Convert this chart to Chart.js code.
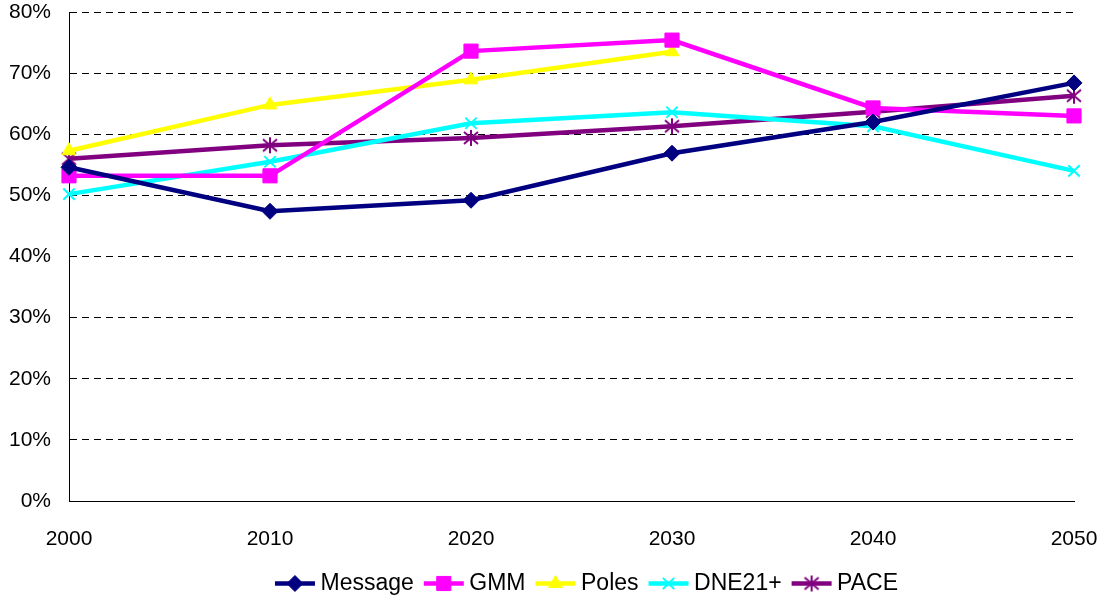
<!DOCTYPE html>
<html>
<head>
<meta charset="utf-8">
<script src="https://cdn.jsdelivr.net/npm/chart.js@4/dist/chart.umd.min.js"></script>
<style>
  html, body { margin: 0; padding: 0; background: #fff; }
  #wrap { width: 1101px; height: 596px; }
</style>
</head>
<body>
<div id="wrap"><canvas id="c"></canvas></div>
<script>
var years = ['2000', '2010', '2020', '2030', '2040', '2050'];
var message = [54.6, 47.4, 49.2, 56.9, 62.0, 68.4];
var gmm = [53.2, 53.2, 73.6, 75.4, 64.3, 63.0];
var poles = [57.3, 64.8, 68.9, 73.5, null, null];
var dne21 = [50.2, 55.5, 61.8, 63.6, 61.3, 54.0];
var pace = [56.0, 58.2, 59.4, 61.3, 63.7, 66.3];

// six-armed asterisk marker for PACE
function asterisk(color) {
    var c = document.createElement('canvas')
    c.width = 18
    c.height = 18
    var g = c.getContext('2d')
    g.strokeStyle = color
    g.lineWidth = 2
    g.beginPath()
    g.moveTo(9, 1); g.lineTo(9, 17)
    g.moveTo(2, 3); g.lineTo(16, 15)
    g.moveTo(16, 3); g.lineTo(2, 15)
    g.stroke()
    return c
}

function series(label, data, color, style, radius) {
    return {
        label: label,
        data: data,
        borderColor: color,
        backgroundColor: color,
        borderWidth: 4.5,
        pointStyle: style,
        pointRadius: radius,
        pointBorderWidth: style == 'crossRot' ? 2 : 1,
        pointBackgroundColor: color,
        pointBorderColor: color,
        tension: 0,
        spanGaps: false
    };
}

var LEGEND_LINE = 40

// legend swatch = a line with the marker on it, drawn by hand
var legendMarkers = {
    id: 'legendMarkers',
    afterLayout: function (chart) {
        // Excel puts the legend a bit right of centre and lower
        var lg = chart.legend
        lg.left += 47
        lg.right += 47
        lg.top += 9
        lg.bottom += 9
    },
    afterDraw: function (chart) {
        var legend = chart.legend
        var ctx = chart.ctx
        legend.legendHitBoxes.forEach(function (box, i) {
            var ds = chart.data.datasets[i]
            var cy = box.top + box.height / 2
            ctx.save()
            ctx.strokeStyle = ds.borderColor
            ctx.lineWidth = 4.5
            ctx.beginPath()
            ctx.moveTo(box.left, cy)
            ctx.lineTo(box.left + LEGEND_LINE, cy)
            ctx.stroke()
            ctx.fillStyle = ds.pointBackgroundColor
            ctx.strokeStyle = ds.pointBorderColor
            ctx.lineWidth = ds.pointBorderWidth
            Chart.helpers.drawPoint(ctx, {
                pointStyle: ds.pointStyle,
                radius: ds.pointRadius,
                rotation: 0,
                borderWidth: ds.pointBorderWidth
            }, box.left + LEGEND_LINE / 2, cy)
            ctx.restore()
        })
    }
};

var font = { family: 'Arial, "Liberation Sans", sans-serif', size: 21 };
var legendFont = { family: 'Arial, "Liberation Sans", sans-serif', size: 23 };

new Chart(document.getElementById('c'), {
    type: 'line',
    data: {
        labels: years,
        datasets: [
            series('Message', message, '#000080', 'rectRot', 8),
            series('GMM', gmm, '#FF00FF', 'rect', 10),
            series('Poles', poles, '#FFFF00', 'triangle', 8),
            series('DNE21+', dne21, '#00FFFF', 'crossRot', 8),
            series('PACE', pace, '#800080', asterisk('#800080'), 8)
        ]
    },
    options: {
        responsive: true,
        maintainAspectRatio: false,
        animation: false,
        layout: { autoPadding: false, padding: { left: 5, right: 27, top: 12, bottom: 0 } },
        scales: {
            x: {
                offset: false,
                grid: { display: false },
                border: { display: true, color: '#000', width: 1 },
                ticks: { color: '#000', font: font, padding: 18, maxRotation: 0, autoSkip: false },
                afterFit: function (scale) {
                    scale.height = 52
                    scale.paddingLeft = 0
                    scale.paddingRight = 0
                }
            },
            y: {
                min: 0,
                max: 80,
                grid: {
                    color: '#000',
                    lineWidth: 1,
                    drawTicks: false
                },
                border: { display: true, color: '#000', width: 1, dash: [7, 5] },
                ticks: {
                    stepSize: 10,
                    color: '#000',
                    font: font,
                    padding: 18,
                    callback: function (v) { return v + '%'; }
                },
                afterFit: function (scale) {
                    scale.width = 64
                    scale.paddingTop = 0
                    scale.paddingBottom = 0
                }
            }
        },
        plugins: {
            legend: {
                position: 'bottom',
                labels: {
                    color: '#000',
                    font: legendFont,
                    boxWidth: 34,
                    boxHeight: 4,
                    padding: 10,
                    generateLabels: function (chart) {
                        return chart.data.datasets.map(function (ds, i) {
                            return {
                                text: ds.label,
                                fillStyle: 'rgba(0,0,0,0)',
                                strokeStyle: 'rgba(0,0,0,0)',
                                lineWidth: 0,
                                hidden: false,
                                datasetIndex: i,
                                fontColor: '#000'
                            }
                        })
                    }
                }
            },
            tooltip: { enabled: false }
        }
    },
    plugins: [legendMarkers]
});
</script>
</body>
</html>
